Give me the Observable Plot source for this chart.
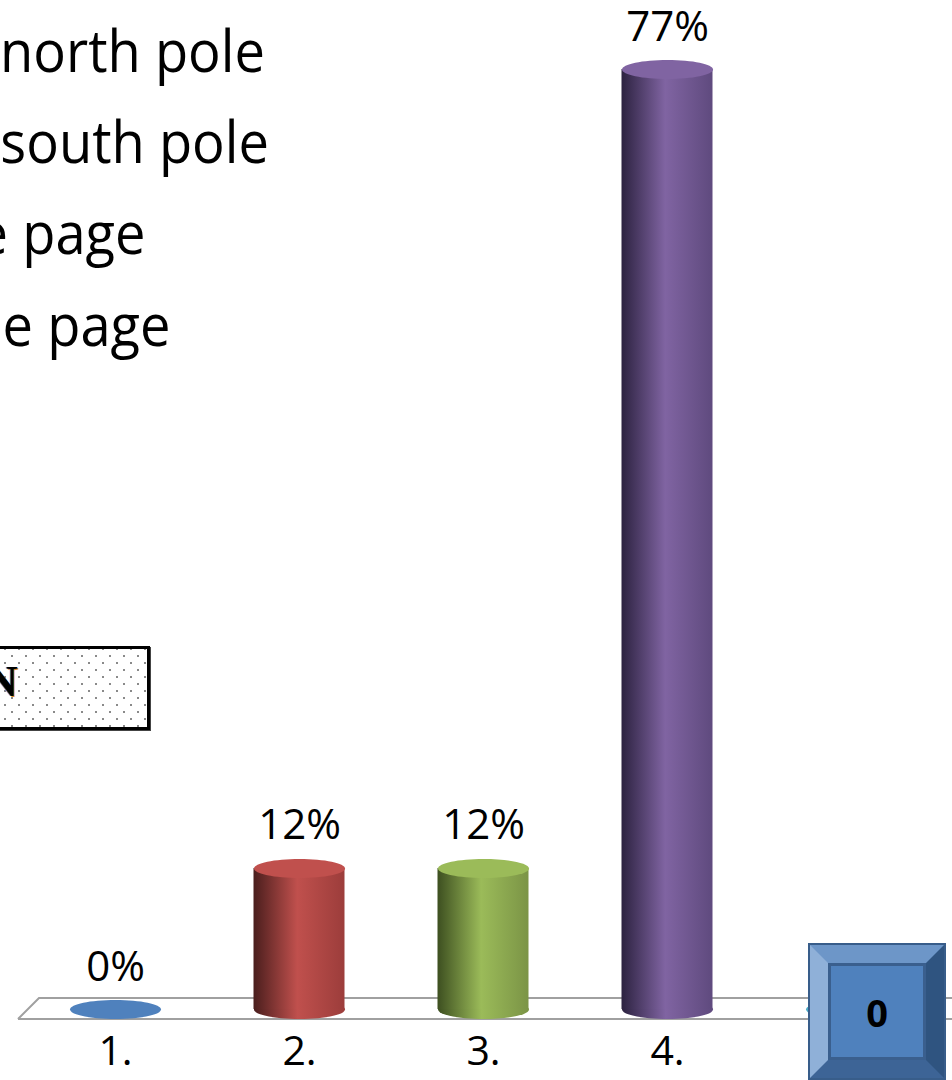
<!DOCTYPE html>
<html>
<head>
<meta charset="utf-8">
<script src="https://cdn.jsdelivr.net/npm/d3@7"></script>
<script src="https://cdn.jsdelivr.net/npm/@observablehq/plot@0.6"></script>
<style>
  html, body { margin: 0; padding: 0; background: #fff; }
  #wrap { position: relative; width: 952px; height: 1080px; overflow: hidden; background: #fff; font-family: "Open Sans", sans-serif; }
  #wrap svg { position: absolute; left: 0; top: 0; }
  .qline { position: absolute; white-space: nowrap; font-size: 59px; line-height: 1; color: #000; transform-origin: right center; transform: scaleX(0.92); text-align: right; }
  #nbox { position: absolute; left: -12px; top: 646px; width: 156px; height: 78px; border: 3px solid #000; box-shadow: 1px 1px 0 #444;
    background-color: #fff;
    background-image: radial-gradient(circle, #8a8a8a 1.1px, transparent 1.5px), radial-gradient(circle, #8a8a8a 1.1px, transparent 1.5px);
    background-size: 14px 14px, 14px 14px; background-position: 0 0, 7px 7px; }
  #nbox span { position: absolute; left: -5px; top: 11px; font-family: "Liberation Serif", serif; font-weight: bold; font-size: 44px; line-height: 1; color: #000; text-shadow: -1px 0 #3a7bd5, 1px 1px #e08a2a; }
  #btn { position: absolute; left: 810px; top: 945px; width: 98px; height: 97px; border-style: solid; border-width: 18px;
    border-top-color: #6d96c8; border-left-color: #8fb0d8; border-right-color: #2f5480; border-bottom-color: #3d6496;
    background: #4f81bd; outline: 2px solid #385d8a; box-shadow: inset 0 0 0 3px #3a5f8e; }
  #btn span { position: absolute; left: 0; right: 0; top: 50%; transform: translateY(-50%); text-align: center; font-family: "Open Sans", sans-serif; font-weight: bold; font-size: 38px; line-height: 1; color: #000; }
</style>
</head>
<body>
<div id="wrap"></div>
<script>
// ---- data ----
const categories = ["1.", "2.", "3.", "4.", "5."];
const values = [0, 11.54, 11.54, 76.92, 0];
const valueLabels = ["0%", "12%", "12%", "77%", "0%"];
const baseColors = ["#4f81bd", "#c0504d", "#9bbb59", "#8064a2", "#4bacc6"];
const darkColors = ["#2c4d75", "#4a1e1d", "#3d4f20", "#2c2240", "#276a7c"];
const sideColors = ["#3f6aa0", "#9c3d3b", "#7b9446", "#5f4a7e", "#3a8ea4"];
const questionLines = ["north pole", "south pole", "e page", "e page"];
const boxLabel = "N";
const buttonLabel = "0";

const data = categories.map((c, i) => ({ i, cat: c, value: values[i], label: valueLabels[i] }));
const raised = data.filter(d => d.value > 0);
const flat = data.filter(d => d.value === 0);

// elliptical symbol for cylinder caps
function ellipseSymbol(rx, ry) {
  const k = 0.5523;
  return {
    draw(ctx) {
      ctx.moveTo(rx, 0);
      ctx.bezierCurveTo(rx, ry * k, rx * k, ry, 0, ry);
      ctx.bezierCurveTo(-rx * k, ry, -rx, ry * k, -rx, 0);
      ctx.bezierCurveTo(-rx, -ry * k, -rx * k, -ry, 0, -ry);
      ctx.bezierCurveTo(rx * k, -ry, rx, -ry * k, rx, 0);
      ctx.closePath();
    }
  };
}
const cap = ellipseSymbol(45.5, 9.5);

// gradient definitions
function gradients() {
  const g = d3.create("svg:g");
  const defs = g.append("defs");
  data.forEach((d, i) => {
    const lg = defs.append("linearGradient").attr("id", "cyl" + i)
      .attr("x1", 0).attr("x2", 1).attr("y1", 0).attr("y2", 0);
    lg.append("stop").attr("offset", "0%").attr("stop-color", darkColors[i]);
    lg.append("stop").attr("offset", "48%").attr("stop-color", baseColors[i]);
    lg.append("stop").attr("offset", "100%").attr("stop-color", sideColors[i]);
  });
  return g.node();
}

// floor plane
function floor(index, scales) {
  const y0 = scales.y(0);
  const x0 = scales.x.range ? scales.x.range()[0] : 23;
  const top = y0 - 11, bottom = y0 + 10;
  const g = d3.create("svg:g");
  g.append("path")
    .attr("d", `M${x0 - 5},${bottom} L${x0 + 16},${top} L960,${top} M${x0 - 5},${bottom} L960,${bottom}`)
    .attr("fill", "none").attr("stroke", "#a0a0a0").attr("stroke-width", 2);
  return g.node();
}

const chart = Plot.plot({
  width: 952,
  height: 1080,
  margin: 0,
  x: { type: "band", domain: categories, range: [23, 943], padding: 0, axis: null },
  y: { domain: [0, 76.92], range: [1009, 69], axis: null },
  color: { type: "identity" },
  style: { background: "transparent", fontFamily: "Open Sans, sans-serif" },
  marks: [
    gradients,
    floor,
    // bottom caps of raised cylinders
    Plot.dot(raised, { x: "cat", y: () => 0, symbol: cap, r: 10, fill: d => `url(#cyl${d.i})`, stroke: "none" }),
    // flat (0%) discs
    Plot.dot(flat, { x: "cat", y: () => 0, symbol: cap, r: 10, fill: d => baseColors[d.i], stroke: "none" }),
    // cylinder bodies
    Plot.barY(raised, { x: "cat", y: "value", fill: d => `url(#cyl${d.i})`, insetLeft: 46.5, insetRight: 46.5 }),
    // top caps
    Plot.dot(raised, { x: "cat", y: "value", symbol: cap, r: 10, fill: d => baseColors[d.i], stroke: "none" }),
    // value labels
    Plot.text(data, { x: "cat", y: "value", text: "label", fontSize: 42, fontFamily: "Open Sans, sans-serif", fill: "#000", lineAnchor: "bottom", dy: -20 - 9 }),
    // category labels
    Plot.text(data, { x: "cat", y: () => 0, text: "cat", fontSize: 41, fontFamily: "Open Sans, sans-serif", fill: "#000", lineAnchor: "top", dy: 26 })
  ]
});

const wrap = document.getElementById("wrap");
wrap.appendChild(chart);

// slide question text (cut off at left edge)
const lineEnds = [265, 269, 146, 171];
const baselines = [72, 163, 254, 346];
questionLines.forEach((t, i) => {
  const el = document.createElement("div");
  el.className = "qline";
  el.textContent = t;
  const fs = 59;
  el.style.right = (952 - lineEnds[i]) + "px";
  el.style.top = (baselines[i] - 0.888 * fs) + "px";
  wrap.appendChild(el);
});

// "N" box
const nbox = document.createElement("div");
nbox.id = "nbox";
const ns = document.createElement("span");
ns.textContent = boxLabel;
nbox.appendChild(ns);
wrap.appendChild(nbox);

// response counter button
const btn = document.createElement("div");
btn.id = "btn";
const bs = document.createElement("span");
bs.textContent = buttonLabel;
btn.appendChild(bs);
wrap.appendChild(btn);
</script>
</body>
</html>
